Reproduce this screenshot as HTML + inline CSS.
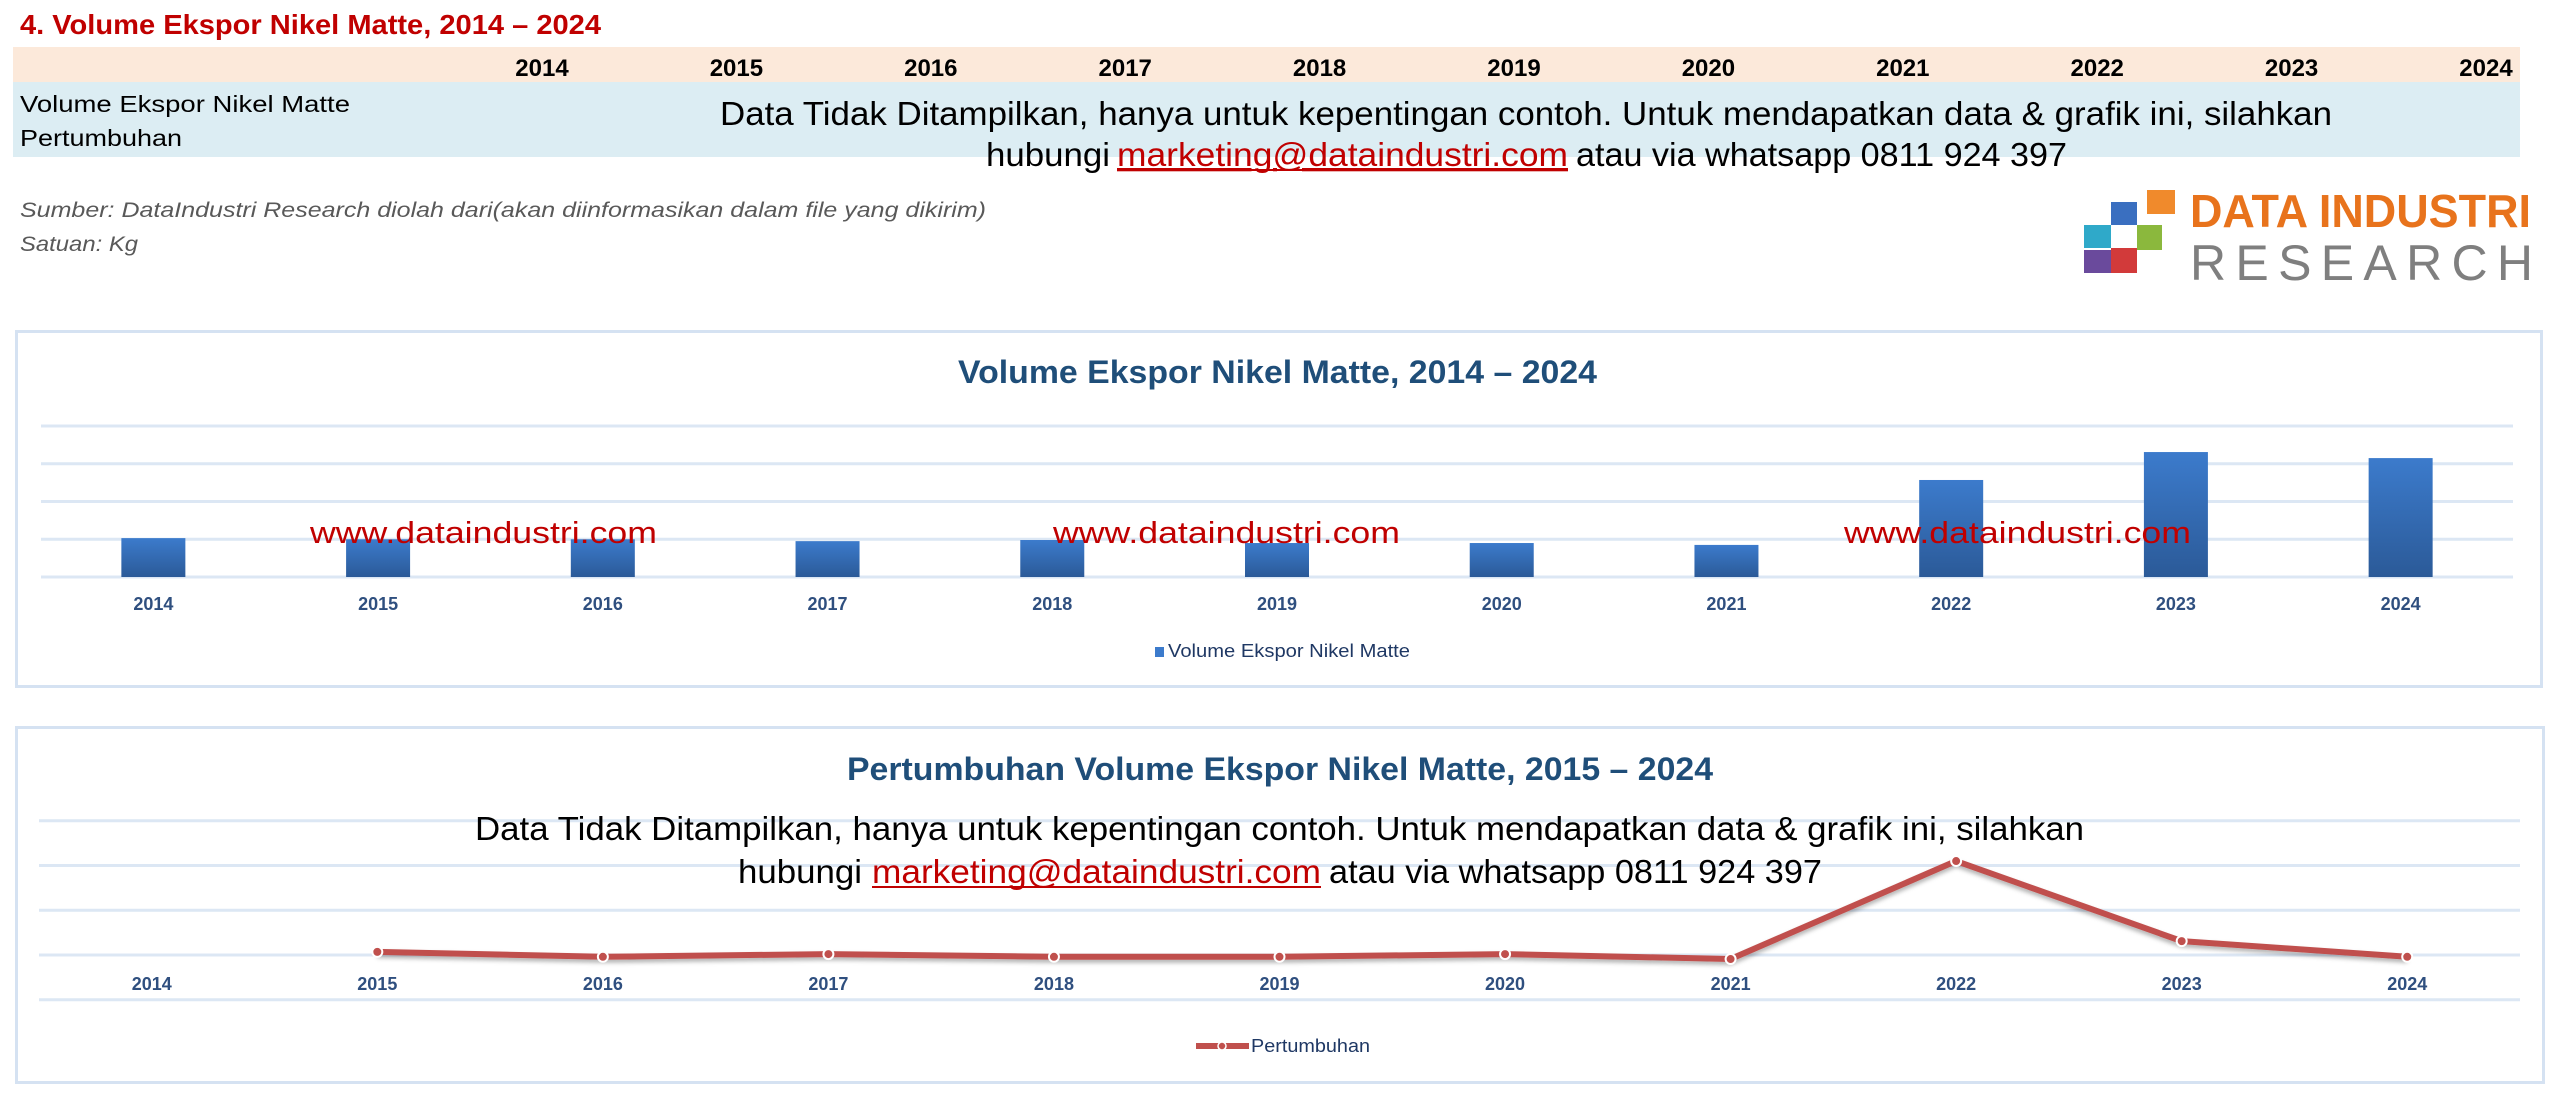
<!DOCTYPE html>
<html><head><meta charset="utf-8"><title>Volume Ekspor Nikel Matte</title>
<style>
html,body{margin:0;padding:0;background:#fff;width:2560px;height:1095px;overflow:hidden}
svg{display:block}
text{font-family:"Liberation Sans Narrow","Liberation Sans",sans-serif}
</style></head>
<body>
<svg id="page" width="2560" height="1095" viewBox="0 0 2560 1095" xmlns="http://www.w3.org/2000/svg">
<defs>
<linearGradient id="barGrad" x1="0" y1="0" x2="0" y2="1">
<stop offset="0" stop-color="#3c7bcc"/><stop offset="1" stop-color="#2b5a98"/>
</linearGradient>
<filter id="shadow" x="-5%" y="-50%" width="110%" height="200%"><feDropShadow dx="0" dy="3" stdDeviation="2" flood-color="#000" flood-opacity="0.3"/></filter>
</defs>

<text x="20" y="34" font-size="28" font-weight="bold" fill="#c00000" textLength="581" lengthAdjust="spacingAndGlyphs">4. Volume Ekspor Nikel Matte, 2014 – 2024</text>

<rect x="13" y="47" width="2507" height="35" fill="#fce9da"/>
<rect x="13" y="82" width="2507" height="75" fill="#dcedf3"/>
<g id="tableYears"></g>
<text x="20" y="112" font-size="23" fill="#000" textLength="330" lengthAdjust="spacingAndGlyphs">Volume Ekspor Nikel Matte</text>
<text x="20" y="146" font-size="23" fill="#000" textLength="162" lengthAdjust="spacingAndGlyphs">Pertumbuhan</text>

<g>
<text x="720" y="125" font-size="33" fill="#000" textLength="1612" lengthAdjust="spacingAndGlyphs">Data Tidak Ditampilkan, hanya untuk kepentingan contoh. Untuk mendapatkan data &amp; grafik  ini, silahkan</text>
<text x="986" y="166" font-size="33" fill="#000" textLength="124" lengthAdjust="spacingAndGlyphs">hubungi</text>
<text x="1117" y="166" font-size="33" fill="#c00000" text-decoration="underline" textLength="451" lengthAdjust="spacingAndGlyphs">marketing@dataindustri.com</text>
<rect x="1117" y="169" width="451" height="2" fill="#c00000"/>
<text x="1576" y="166" font-size="33" fill="#000" textLength="491" lengthAdjust="spacingAndGlyphs">atau via whatsapp 0811 924 397</text>
</g>

<text x="20" y="217" font-size="21" font-style="italic" fill="#595959" textLength="966" lengthAdjust="spacingAndGlyphs">Sumber: DataIndustri Research diolah dari(akan diinformasikan dalam file yang dikirim)</text>
<text x="20" y="251" font-size="21" font-style="italic" fill="#595959" textLength="118" lengthAdjust="spacingAndGlyphs">Satuan: Kg</text>

<g>
<rect x="2147" y="190" width="28" height="24" fill="#f08a2c"/>
<rect x="2111" y="202" width="26" height="23" fill="#3a6fc0"/>
<rect x="2084" y="225" width="27" height="23" fill="#2fa9c9"/>
<rect x="2137" y="225" width="25" height="25" fill="#8bb83d"/>
<rect x="2084" y="250" width="27" height="23" fill="#6a4a9c"/>
<rect x="2111" y="248" width="26" height="25" fill="#d23a3a"/>
<text x="2190" y="227" font-size="46" font-weight="bold" fill="#e8731c" textLength="341" lengthAdjust="spacingAndGlyphs">DATA INDUSTRI</text>
<text x="2190" y="280" font-size="50" fill="#7f7f7f" textLength="343" lengthAdjust="spacing">RESEARCH</text>
</g>

<!-- Chart 1 -->
<g id="chart1">
<rect x="16.5" y="331.5" width="2525" height="355" fill="#fff" stroke="#d5e2f2" stroke-width="3"/>
<text x="958" y="383" font-size="32" font-weight="bold" fill="#1f4e79" textLength="639" lengthAdjust="spacingAndGlyphs">Volume Ekspor Nikel Matte, 2014 – 2024</text>
<g id="c1grid"></g><g id="c1bars"></g><g id="c1labels"></g>
<g>
<rect x="1155" y="647" width="9" height="10" fill="#3c7bcc"/>
<text x="1168" y="657" font-size="18" fill="#1f3864" textLength="242" lengthAdjust="spacingAndGlyphs">Volume Ekspor Nikel Matte</text>
</g>
<g>
<text x="310" y="543" font-size="31" fill="#c00000" textLength="347" lengthAdjust="spacingAndGlyphs">www.dataindustri.com</text>
<text x="1053" y="543" font-size="31" fill="#c00000" textLength="347" lengthAdjust="spacingAndGlyphs">www.dataindustri.com</text>
<text x="1844" y="543" font-size="31" fill="#c00000" textLength="347" lengthAdjust="spacingAndGlyphs">www.dataindustri.com</text>
</g>
</g>

<!-- Chart 2 -->
<g id="chart2">
<rect x="16.5" y="727.5" width="2527" height="355" fill="#fff" stroke="#d5e2f2" stroke-width="3"/>
<text x="847" y="780" font-size="32" font-weight="bold" fill="#1f4e79" textLength="866" lengthAdjust="spacingAndGlyphs">Pertumbuhan Volume Ekspor Nikel Matte, 2015 – 2024</text>
<g id="c2grid"></g>
<g>
<text x="475" y="840" font-size="33" fill="#000" textLength="1609" lengthAdjust="spacingAndGlyphs">Data Tidak Ditampilkan, hanya untuk kepentingan contoh. Untuk mendapatkan data &amp; grafik  ini, silahkan</text>
<text x="738" y="883" font-size="33" fill="#000" textLength="124" lengthAdjust="spacingAndGlyphs">hubungi</text>
<text x="872" y="883" font-size="33" fill="#c00000" textLength="449" lengthAdjust="spacingAndGlyphs">marketing@dataindustri.com</text>
<rect x="872" y="886" width="449" height="2" fill="#c00000"/>
<text x="1329" y="883" font-size="33" fill="#000" textLength="493" lengthAdjust="spacingAndGlyphs">atau via whatsapp 0811 924 397</text>
</g>
<g id="c2line"></g><g id="c2labels"></g>
<g>
<line x1="1196" y1="1046" x2="1249" y2="1046" stroke="#c0504d" stroke-width="6"/>
<circle cx="1222" cy="1046" r="4" fill="#c0504d" stroke="#fff" stroke-width="1.5"/>
<text x="1251" y="1052" font-size="18" fill="#1f3864" textLength="119" lengthAdjust="spacingAndGlyphs">Pertumbuhan</text>
</g>
</g>
</svg>

<script>
const years = ["2014","2015","2016","2017","2018","2019","2020","2021","2022","2023","2024"];
const volumeValues = [1.03, 1.0, 1.0, 0.95, 0.98, 0.9, 0.9, 0.85, 2.57, 3.31, 3.15];
const volumeTicks = [0, 1, 2, 3, 4];
const growthYears = ["2015","2016","2017","2018","2019","2020","2021","2022","2023","2024"];
const growthValues = [0.07, -0.04, 0.02, -0.04, -0.04, 0.02, -0.09, 2.1, 0.31, -0.04];
const growthTicks = [-1, 0, 1, 2, 3];

const NS = "http://www.w3.org/2000/svg";
function mk(tag, attrs, parent){ const e=document.createElementNS(NS,tag); for(const k in attrs) e.setAttribute(k,attrs[k]); parent.appendChild(e); return e; }

// table header years
const ty = document.getElementById('tableYears');
years.forEach((y,i)=>{
  const t = mk('text',{x:542+i*194.4,y:76,'font-size':24,'font-weight':'bold','text-anchor':'middle',fill:'#000'},ty);
  
  
  t.textContent=y;
});

// chart 1 axes
const plotL=41, plotR=2513, step=(plotR-plotL)/years.length;
const xc = i => plotL + step*(i+0.5);
const y1 = v => 577 - (v-0)/(4-0)*(577-426);
const g1=document.getElementById('c1grid');
volumeTicks.forEach(t=>{
  const l=mk('line',{x1:plotL,x2:plotR,y1:y1(t),y2:y1(t),stroke:'#dce7f4','stroke-width':3},g1);
  
  
});
const b1=document.getElementById('c1bars'), l1=document.getElementById('c1labels');
volumeValues.forEach((v,i)=>{
  const r=mk('rect',{x:xc(i)-32,y:y1(v),width:64,height:y1(0)-y1(v),fill:'url(#barGrad)'},b1);
  
  
  const t=mk('text',{x:xc(i),y:610,'font-size':18,'font-weight':'bold','text-anchor':'middle',fill:'#2f4f7f'},l1);
  
  
  t.textContent=years[i];
});

// chart 2 axes
const plotL2=39, plotR2=2520, step2=(plotR2-plotL2)/years.length;
const xc2 = i => plotL2 + step2*(i+0.5);
const y2 = v => 955 - v*((1000-821)/4);
const g2=document.getElementById('c2grid');
growthTicks.forEach(t=>{
  const l=mk('line',{x1:plotL2,x2:plotR2,y1:y2(t),y2:y2(t),stroke:'#dce7f4','stroke-width':3},g2);
  
  
});
const lab2=document.getElementById('c2labels');
years.forEach((y,i)=>{
  const t=mk('text',{x:xc2(i),y:990,'font-size':18,'font-weight':'bold','text-anchor':'middle',fill:'#2f4f7f'},lab2);
  
  
  t.textContent=y;
});
const gl=document.getElementById('c2line');
const pts=growthValues.map((v,i)=>{const idx=years.indexOf(growthYears[i]);return [xc2(idx),y2(v)];});
const pl=mk('polyline',{points:pts.map(p=>p.join(',')).join(' '),fill:'none',stroke:'#c0504d','stroke-width':6,'stroke-linejoin':'round',filter:'url(#shadow)'},gl);


pts.forEach((p,i)=>{
  const c=mk('circle',{cx:p[0],cy:p[1],r:5,fill:'#c0504d',stroke:'#fff','stroke-width':2},gl);
  
  
});
</script>
</body></html>
